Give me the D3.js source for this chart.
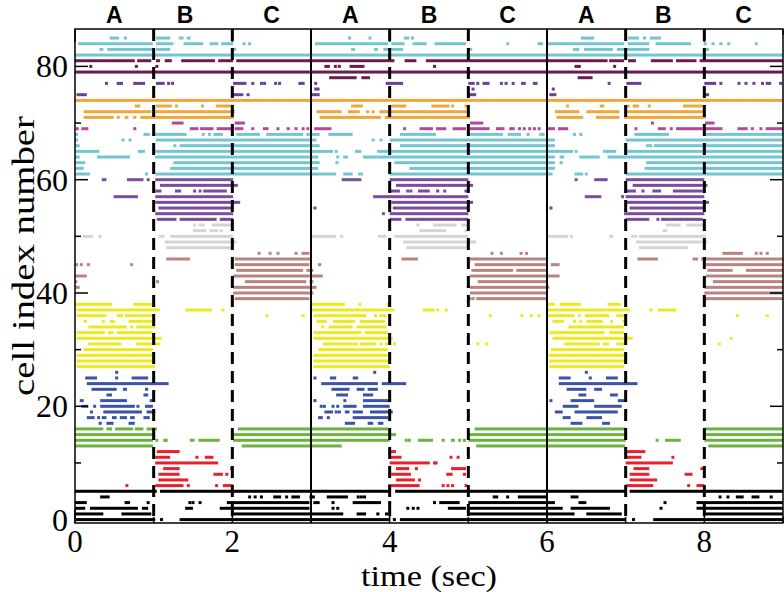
<!DOCTYPE html>
<html><head><meta charset="utf-8">
<script src="https://cdn.jsdelivr.net/npm/d3@7"></script>
<style>body{margin:0;background:#fff}svg{display:block}</style>
</head><body>
<svg id="chart" width="784" height="592"></svg>
<script>
// ---------- data ----------
const xTicks = [0, 2, 4, 6, 8];
const xMinorTicks = [1, 3, 5, 7, 9];
const yTicks = [0, 20, 40, 60, 80];
const yMinorTicks = [10, 30, 50, 70];
const phaseLabels = ["A", "B", "C", "A", "B", "C", "A", "B", "C"];
const phaseLabelTimes = [0.5, 1.4, 2.5, 3.5, 4.5, 5.5, 6.5, 7.48, 8.5];
const solidBoundaries = [3, 6];
const dashedBoundaries = [1, 2, 4, 5, 7, 8];
// cell groups: first cell index of each group and its colour
const groupFirstCell = [0, 6, 13, 17, 27, 39, 48, 53, 61, 69, 71, 75, 78, 82];
const groupColors = ["#000000", "#e8202a", "#6cb33e", "#3a53a4", "#ecea1e", "#b98383", "#d4d4d4",
                     "#7b4c9c", "#72c6d0", "#b5479b", "#f1a63a", "#6c3e96", "#6b1c4c", "#72c6d0"];
// spike trains per cell (index = cell number); "a-b" = burst from a to b sec, "t" = single spike
const spikeTrains = [
/*0*/ "0-1.02 1.1 1.33-4.0 4.06 4.13-7.0 7.1 7.35-9",
/*1*/ "0-0.36 0.59-0.97 2.01-3.41 3.58-3.7 3.83-3.87 3.96 5.0-6.35 6.5-6.95 8.0-9",
/*2*/ "0-0.13 0.19-0.8 0.85-0.93 1.4-1.5 1.84-2.98 3.28 3.34 4.23 4.3 4.36 4.74-4.97 5.0-6.2 6.3-6.8 7.45 7.9-9",
/*3*/ "0-0.15 0.63-0.7 0.93 1.46 1.5 1.59 1.93-2.98 3.03-3.11 3.26-3.3 3.53-3.89 3.98-4.02 4.57 4.63-4.89 5.0-6.1 6.4-6.5 7.5 7.9-9",
/*4*/ "0.32-0.44 2.22 2.29 2.35-2.39 2.52-2.62 2.69 2.75-2.86 3.0 3.03 3.2-3.47 3.6 3.64 3.68 5.31-5.38 5.5 5.63-6.0 6.3-6.4 8.2 8.3 8.4-8.5 8.6-8.7 8.85",
/*5*/ "0-1.04 1.08-4.0 4.07-7.0 7.05-9",
/*6*/ "0.66 1.02-1.38 1.44 1.8 1.88-2.01 3.98-4.38 4.68 4.74 4.8 4.97 7.0-7.35 7.8 7.9-8.0",
/*7*/ "1.06-1.44 4.08-4.32 4.38 7.05-7.4",
/*8*/ "1.06-1.33 1.76-1.88 1.93 4.02-4.27 4.72-4.8 4.93-4.97 7.05-7.3 7.75-7.85",
/*9*/ "1.12-1.33 1.97-2.01 4.08-4.25 4.34 4.78-4.97 7.1-7.3 7.95-8.0",
/*10*/ "1.02-1.82 4.0-4.51 4.57 4.59 7.0-7.6",
/*11*/ "1.02-1.21 1.55 1.65-1.76 4.0-4.15 4.78 4.87 7.0-7.2 7.6",
/*12*/ "1.04-1.33 4.0-4.08 7.0-7.25",
/*13*/ "0-0.99 2.12-3.39 5.1-6.99 8.05-9",
/*14*/ "0-0.99 1.04 1.14 1.16 1.46-1.52 1.57-1.84 2.01-4.0 4.21 4.25 4.36-4.55 4.68 4.78-4.83 4.89 4.95 5.0-7.0 7.4 7.5-7.7 8.0-9",
/*15*/ "0-1.02 2.01-4.08 5.0-7.0 8.0-9",
/*16*/ "0-0.36 0.4-0.47 0.51-0.74 0.76-0.87 0.91-1.04 2.07-3.98 5.08-7.0 8.0-9",
/*17*/ "0.3-0.34 0.4-0.49 0.68-0.76 3.43-3.56 3.72-3.79 3.85-3.92 6.3-6.45 6.7-6.8",
/*18*/ "0.15-0.25 0.3 0.34-0.4 0.47-0.53 0.57-0.66 0.7-0.76 0.87-0.95 3.09-3.15 3.22 3.53-3.98 6.2-6.3 6.5-6.7",
/*19*/ "0.21 0.36-0.85 0.91-1.02 3.17-3.28 3.32 3.36 3.43-3.49 3.53-3.66 3.75-4.04 6.1-6.2 6.35-6.9",
/*20*/ "0.08-0.17 0.25 0.32-0.76 0.8 0.89-0.99 3.13 3.17 3.28 3.34 3.41-3.58 3.66-4.0 6.2-6.4 6.6-6.95",
/*21*/ "0.06-0.11 0.32-0.66 0.95-0.99 3.03-3.07 3.43 3.66-4.0 6.05 6.3-6.6 6.9-7.0",
/*22*/ "0.4-0.47 0.87-0.93 3.32-3.47 3.66-3.79 6.4-6.5 6.8-6.9",
/*23*/ "0.21-0.53 0.61-0.66 0.89-0.93 3.26-3.49 3.58-3.68 3.72-3.85 6.25-6.5 6.6-6.7",
/*24*/ "0.15-1.19 3.13-3.85 3.9-4.21 6.15-7.15",
/*25*/ "0.13-0.28 0.53 0.72-0.93 3.05 3.24-3.32 3.53-3.6 6.15-6.3 6.55 6.75-6.9",
/*26*/ "0.53 3.81 6.5",
/*27*/ "0.02-1.02 3.03-4.0 6.03-6.98",
/*28*/ "0.02-1.02 3.03-4.0 6.03-7.0",
/*29*/ "0.02-0.99 3.03-4.0 6.02-7.0",
/*30*/ "0.11-0.99 3.09-3.98 6.05-6.98",
/*31*/ "0.17-0.59 0.78-1.08 3.15-3.6 3.62-3.83 3.89 3.96 4.06 5.12 5.23 6.22-6.67 6.73 6.77 6.88-7.0 8.19",
/*32*/ "0.02-1.1 3.03-4.04 6.07-7.09 8.34",
/*33*/ "0.02-0.38 0.42-0.49 0.53-0.99 3.03-3.64 3.68-3.98 6.03-6.73 6.79-6.98",
/*34*/ "0.17-0.66 0.7-0.74 0.78-1.02 3.15 3.22-3.53 3.58-3.96 6.27-6.98",
/*35*/ "0.11-0.15 0.36 0.44-0.51 0.68-0.95 0.97 3.07-3.2 3.28-3.56 3.62-3.94 6.07-6.22 6.35 6.43 6.5-6.71 6.82 6.98",
/*36*/ "0.02-0.4 0.53-0.61 0.63-0.99 2.44 2.9 3.03-3.7 3.82 3.87-3.96 5.28 5.68 5.8 5.9 6.01-6.35 6.41 6.48-6.79 6.88-6.98 8.42 8.8",
/*37*/ "0.02-1.08 1.4-1.74 1.88 3.0-4.06 4.42-4.57 4.61 4.72 6.01-7.05 7.32 7.41-7.64",
/*38*/ "0-0.47 0.74-1.02 3.0-3.43 3.62 3.96-4.0 6.01-6.1 6.16-6.43 6.77-6.94",
/*39*/ "2.03-2.98 5.02 5.06 5.1-5.99 8.0-9",
/*40*/ "2.01-3.03 5.02-5.99 8.0-9",
/*41*/ "0-0.06 2.01-3.07 5.02-6.03 8.0-9",
/*42*/ "0.01 1.05 2.16-2.94 2.98-3.03 5.12-6.0 8.11-9",
/*43*/ "0-0.15 2.01-3.15 5.02-6.16 8.02-9",
/*44*/ "2.05-2.9 2.94-3.03 5.04-5.57 5.61-6.0 8.04-8.36 8.53-9",
/*45*/ "0.02 0.08 0.15-0.19 0.72 2.03-2.98 3.09-3.13 5.08-6.0 6.05-6.16 8.02-9",
/*46*/ "1.16-1.46 2.03-3.0 4.15-4.36 5.02-6.0 7.15-7.41 7.85-7.92 7.96-9",
/*47*/ "2.34 2.48 2.58 2.81 2.88-2.98 5.3 5.42 5.67 5.74 8.23-8.49 8.66 8.72 8.8",
/*48*/ "1.16-2.01 4.21-5.0 7.17-7.79",
/*49*/ "1.14-2.05 4.17-5.1 7.13-8.04",
/*50*/ "0.1-0.23 0.32 1.08 1.12 1.21-2.01 3.0-3.32 3.39 3.85-3.96 4.06-5.0 6.01-6.27 6.31 6.79-6.84 7.09 7.13 7.17-8.02",
/*51*/ "1.5-1.67 1.71-1.82 1.84-1.88 4.38-4.72 4.97 7.47-7.53",
/*52*/ "1.52 1.59 1.63 1.74-2.01 4.36 4.55-4.85 4.91-5.0 7.51-7.7 7.77-7.98",
/*53*/ "1.04-1.29 1.33-1.8 1.84-2.01 4.0-4.15 4.2-5.0 7.0-7.3 7.41 7.45-7.98",
/*54*/ "1.02-2.01 3.92 4.0-5.0 6.98-8.0",
/*55*/ "1.06-2.01 3.03-3.07 4.04-5.0 6.03-6.07 7.05-8.0",
/*56*/ "1.02-2.1 4.02-5.06 7.0-8.06",
/*57*/ "0.49-0.8 1.02-2.01 3.79-5.0 6.48-6.69 6.96 7.0-8.0",
/*58*/ "1.02-1.1 1.27-1.35 1.52 1.59 1.63-1.93 4.0-4.13 4.23 4.27 4.36-4.51 4.59-4.63 4.7 4.97 7.0-7.13 7.2-7.24 7.34-7.45 7.6-7.98",
/*59*/ "1.08-2.07 4.08-5.06 7.09-8.04",
/*60*/ "0.34-0.4 0.66-0.87 0.93 1.02-2.01 3.39-3.64 4.0-5.0 6.37 6.6-6.77 7.0-8.0",
/*61*/ "0-0.19 0.91 1.02-3.32 3.41-3.53 3.6-3.66 4.0-6.07 6.35-6.46 6.5 7.0-9",
/*62*/ "0-0.11 1.21-3.09 4.25-6.1 7.24-9",
/*63*/ "0-0.13 1.25-3.11 3.33 4.06-6.1 6.16-6.2 7.26-9",
/*64*/ "0-0.06 0.28-0.7 1.02-3.09 3.34 3.41-3.47 3.66-6.1 6.16-6.22 6.41-6.67 6.77-9",
/*65*/ "0-0.31 0.8-0.89 1.02-3.28 3.32 3.56-3.64 3.84-6.33 6.37 6.71-6.88 6.98-9",
/*66*/ "0-0.06 1.27 1.33-3.11 4.13-6.1 7.26-7.34 7.36-9",
/*67*/ "0-0.04 0.61 0.7 1.03-3.07 3.79 3.89 4.0-6.1 7.0-9",
/*68*/ "0-0.04 0.87-0.95 1.02-1.42 1.63 1.71 1.76-1.88 2.05-2.35 2.43-2.9 2.94-3.11 3.22-3.53 4.13-4.59 5.02-5.44 5.5-5.67 5.74-5.78 5.9-5.97 6.35 6.43 7.11-7.55 8.02-9",
/*69*/ "0.01-0.04 0.08-0.17 0.76 1.46-1.57 1.59-1.76 1.8-1.99 2.03-2.14 2.26 2.39-2.46 2.58 2.69-2.73 2.81 2.9 2.96 3.04-3.26 4.19 4.38-4.55 4.59-4.72 4.8-4.97 5.02-5.27 5.35-5.46 5.52-5.59 5.65 5.71 5.78 5.84 5.9 6.01-6.1 6.14-6.27 7.13 7.41-7.51 7.58 7.64-7.98 8.02-8.23 8.42-8.55 8.61 8.72 8.78-9",
/*70*/ "1.23-1.38 2.03-2.16 5.02-5.19 7.32-7.36 8.01-8.13",
/*71*/ "0.11-0.49 0.55 0.63-0.68 0.74-0.78 0.83-2.02 3.11-3.89 3.94-5.02 6.12-6.46 6.62-6.92 6.98-8.02",
/*72*/ "0.11-0.97 1.02-2.03 3.07-3.39 3.47-3.62 3.72 3.79 3.87-5.02 6.1-6.41 6.5-6.92 6.98-8.0",
/*73*/ "0.76-0.83 1.03-1.23 1.29 1.62 1.79-2.01 3.51-3.66 4.02-4.21 4.53-4.76 4.8 4.97 6.26 6.67-6.73 7.01-7.05 7.09-7.17 7.3 7.73-7.98",
/*74*/ "0-9",
/*75*/ "0.02-0.15 2.01-2.14 2.2 3.0-3.11 5.01-5.1 6.03-6.12 8.0-8.06",
/*76*/ "3.06 3.09 5.06 6.08",
/*77*/ "0.4 0.53-0.61 0.74-0.89 1.03-1.14 1.19 1.24 2.01-2.18 2.26 2.37 2.41 2.55 2.6 2.84-2.92 3.06 3.95-4.17 5.0-5.08 5.12 5.18-5.27 5.42 5.48 5.57 5.67-5.73 5.82-5.88 6.79 7.01-7.2 8.0-8.15 8.21 8.44 8.53 8.63 8.74 8.78-8.85 8.97",
/*78*/ "3.23-3.58 3.64-3.75 6.39-6.58",
/*79*/ "0-9",
/*80*/ "0.2 0.78 1.02-1.06 3.17-3.24 3.31 3.36 3.49-3.68 4.55-4.59 6.35-6.43 6.86",
/*81*/ "0-0.76 0.79-0.97 1.03-1.08 1.14-1.23 1.35-1.78 1.82-2.01 2.05-4.06 4.19-4.34 4.46-6.77 6.79-6.98 7.03-7.13 7.32-7.6 7.64-7.9 7.94-9",
/*82*/ "0-9",
/*83*/ "0.31-0.36 0.41-0.99 1.03-1.21 2.01-2.05 3.51-3.56 3.8-3.85 3.92-4.17 5.0-5.05 6.33-6.41 6.47-6.84 6.89-7.3 7.99-8.06",
/*84*/ "0.04-0.99 1.03-1.25 1.38-1.63 1.71-1.82 1.86-2.01 2.15 2.22 3.05-3.98 4.02-4.19 4.29-4.47 4.57-4.97 5.5 5.9 5.93 6.01-6.98 7.03-7.3 7.38-7.83 8.01 8.11 8.21 8.31 8.66",
/*85*/ "0.44-0.56 0.62-0.66 1.03-1.21 1.32-1.38 1.42-1.47 3.47-3.51 3.75 4.18-4.25 4.29 6.43-6.6 7.03-7.17 7.22-7.26 7.31-7.45"
];

// ---------- chart ----------
(function () {
  const svg = d3.select("#chart");
  const pL = 75, pR = 783, pT = 29, pB = 523;
  const x = d3.scaleLinear().domain([0, 9]).range([pL, pR]);
  const y = d3.scaleLinear().domain([-0.6, 86.6]).range([pB, pT]);
  const colorOf = cell => groupColors[d3.bisectRight(groupFirstCell, cell) - 1];

  const spikes = spikeTrains.flatMap((s, cell) =>
    s.trim().split(/\s+/).filter(Boolean).map(tok => {
      const p = tok.split("-").map(Number);
      return { cell, t0: p[0], t1: p.length > 1 ? p[1] : p[0] };
    }));

  svg.append("defs").append("clipPath").attr("id", "plotClip")
    .append("rect").attr("x", pL).attr("y", pT).attr("width", pR - pL).attr("height", pB - pT);

  const markH = 3, dotW = 3;
  svg.append("g").attr("clip-path", "url(#plotClip)")
    .selectAll("rect").data(spikes).join("rect")
    .attr("x", d => d.t0 === d.t1 ? x(d.t0) - dotW / 2 : x(d.t0))
    .attr("width", d => Math.max(dotW, x(d.t1) - x(d.t0)))
    .attr("y", d => y(d.cell) - markH / 2)
    .attr("height", markH)
    .attr("fill", d => colorOf(d.cell));

  // phase boundaries
  svg.append("g").selectAll("line").data(solidBoundaries).join("line")
    .attr("x1", d => x(d)).attr("x2", d => x(d)).attr("y1", pT).attr("y2", pB)
    .attr("stroke", "#000").attr("stroke-width", 2);
  svg.append("g").selectAll("line").data(dashedBoundaries).join("line")
    .attr("x1", d => x(d)).attr("x2", d => x(d)).attr("y1", pT).attr("y2", pB)
    .attr("stroke", "#000").attr("stroke-width", 3).attr("stroke-dasharray", "12,7");

  // frame
  svg.append("rect").attr("x", pL).attr("y", pT).attr("width", pR - pL).attr("height", pB - pT)
    .attr("fill", "none").attr("stroke", "#000").attr("stroke-width", 1.5);

  // ticks (inside, mirrored)
  const tickG = svg.append("g").attr("stroke", "#000").attr("stroke-width", 1.5);
  const yTickData = yTicks.map(v => ({ v, len: 13 })).concat(yMinorTicks.map(v => ({ v, len: 6 })));
  tickG.selectAll("line.yl").data(yTickData).join("line").attr("class", "yl")
    .attr("x1", pL).attr("x2", d => pL + d.len).attr("y1", d => y(d.v)).attr("y2", d => y(d.v));
  tickG.selectAll("line.yr").data(yTickData).join("line").attr("class", "yr")
    .attr("x1", pR).attr("x2", d => pR - d.len).attr("y1", d => y(d.v)).attr("y2", d => y(d.v));
  const xTickData = xTicks.map(v => ({ v, len: 13 })).concat(xMinorTicks.map(v => ({ v, len: 6 })));
  tickG.selectAll("line.xb").data(xTickData).join("line").attr("class", "xb")
    .attr("x1", d => x(d.v)).attr("x2", d => x(d.v)).attr("y1", pB).attr("y2", d => pB - d.len);
  tickG.selectAll("line.xt").data(xTickData).join("line").attr("class", "xt")
    .attr("x1", d => x(d.v)).attr("x2", d => x(d.v)).attr("y1", pT).attr("y2", d => pT + d.len);

  // tick labels
  const serif = "'Liberation Serif','DejaVu Serif',serif";
  svg.append("g").selectAll("text").data(xTicks).join("text")
    .attr("x", d => x(d)).attr("y", 552).attr("text-anchor", "middle")
    .attr("font-family", serif).attr("font-size", 31).text(d => d);
  svg.append("g").selectAll("text").data(yTicks).join("text")
    .attr("x", 68).attr("y", d => y(d) + 11).attr("text-anchor", "end")
    .attr("font-family", serif).attr("font-size", 32).text(d => d);

  // axis titles
  svg.append("text").attr("x", 429).attr("y", 586).attr("text-anchor", "middle")
    .attr("font-family", serif).attr("font-size", 29)
    .attr("textLength", 136).attr("lengthAdjust", "spacingAndGlyphs").text("time (sec)");
  svg.append("text").attr("transform", "translate(34,256) rotate(-90)").attr("text-anchor", "middle")
    .attr("font-family", serif).attr("font-size", 32)
    .attr("textLength", 280).attr("lengthAdjust", "spacingAndGlyphs").text("cell index number");

  // phase labels
  svg.append("g").selectAll("text").data(phaseLabels).join("text")
    .attr("x", (d, i) => x(phaseLabelTimes[i])).attr("y", 23).attr("text-anchor", "middle")
    .attr("font-family", "'Liberation Sans',Arial,sans-serif").attr("font-weight", "bold").attr("font-size", 23)
    .text(d => d);
})();
</script>
</body></html>
